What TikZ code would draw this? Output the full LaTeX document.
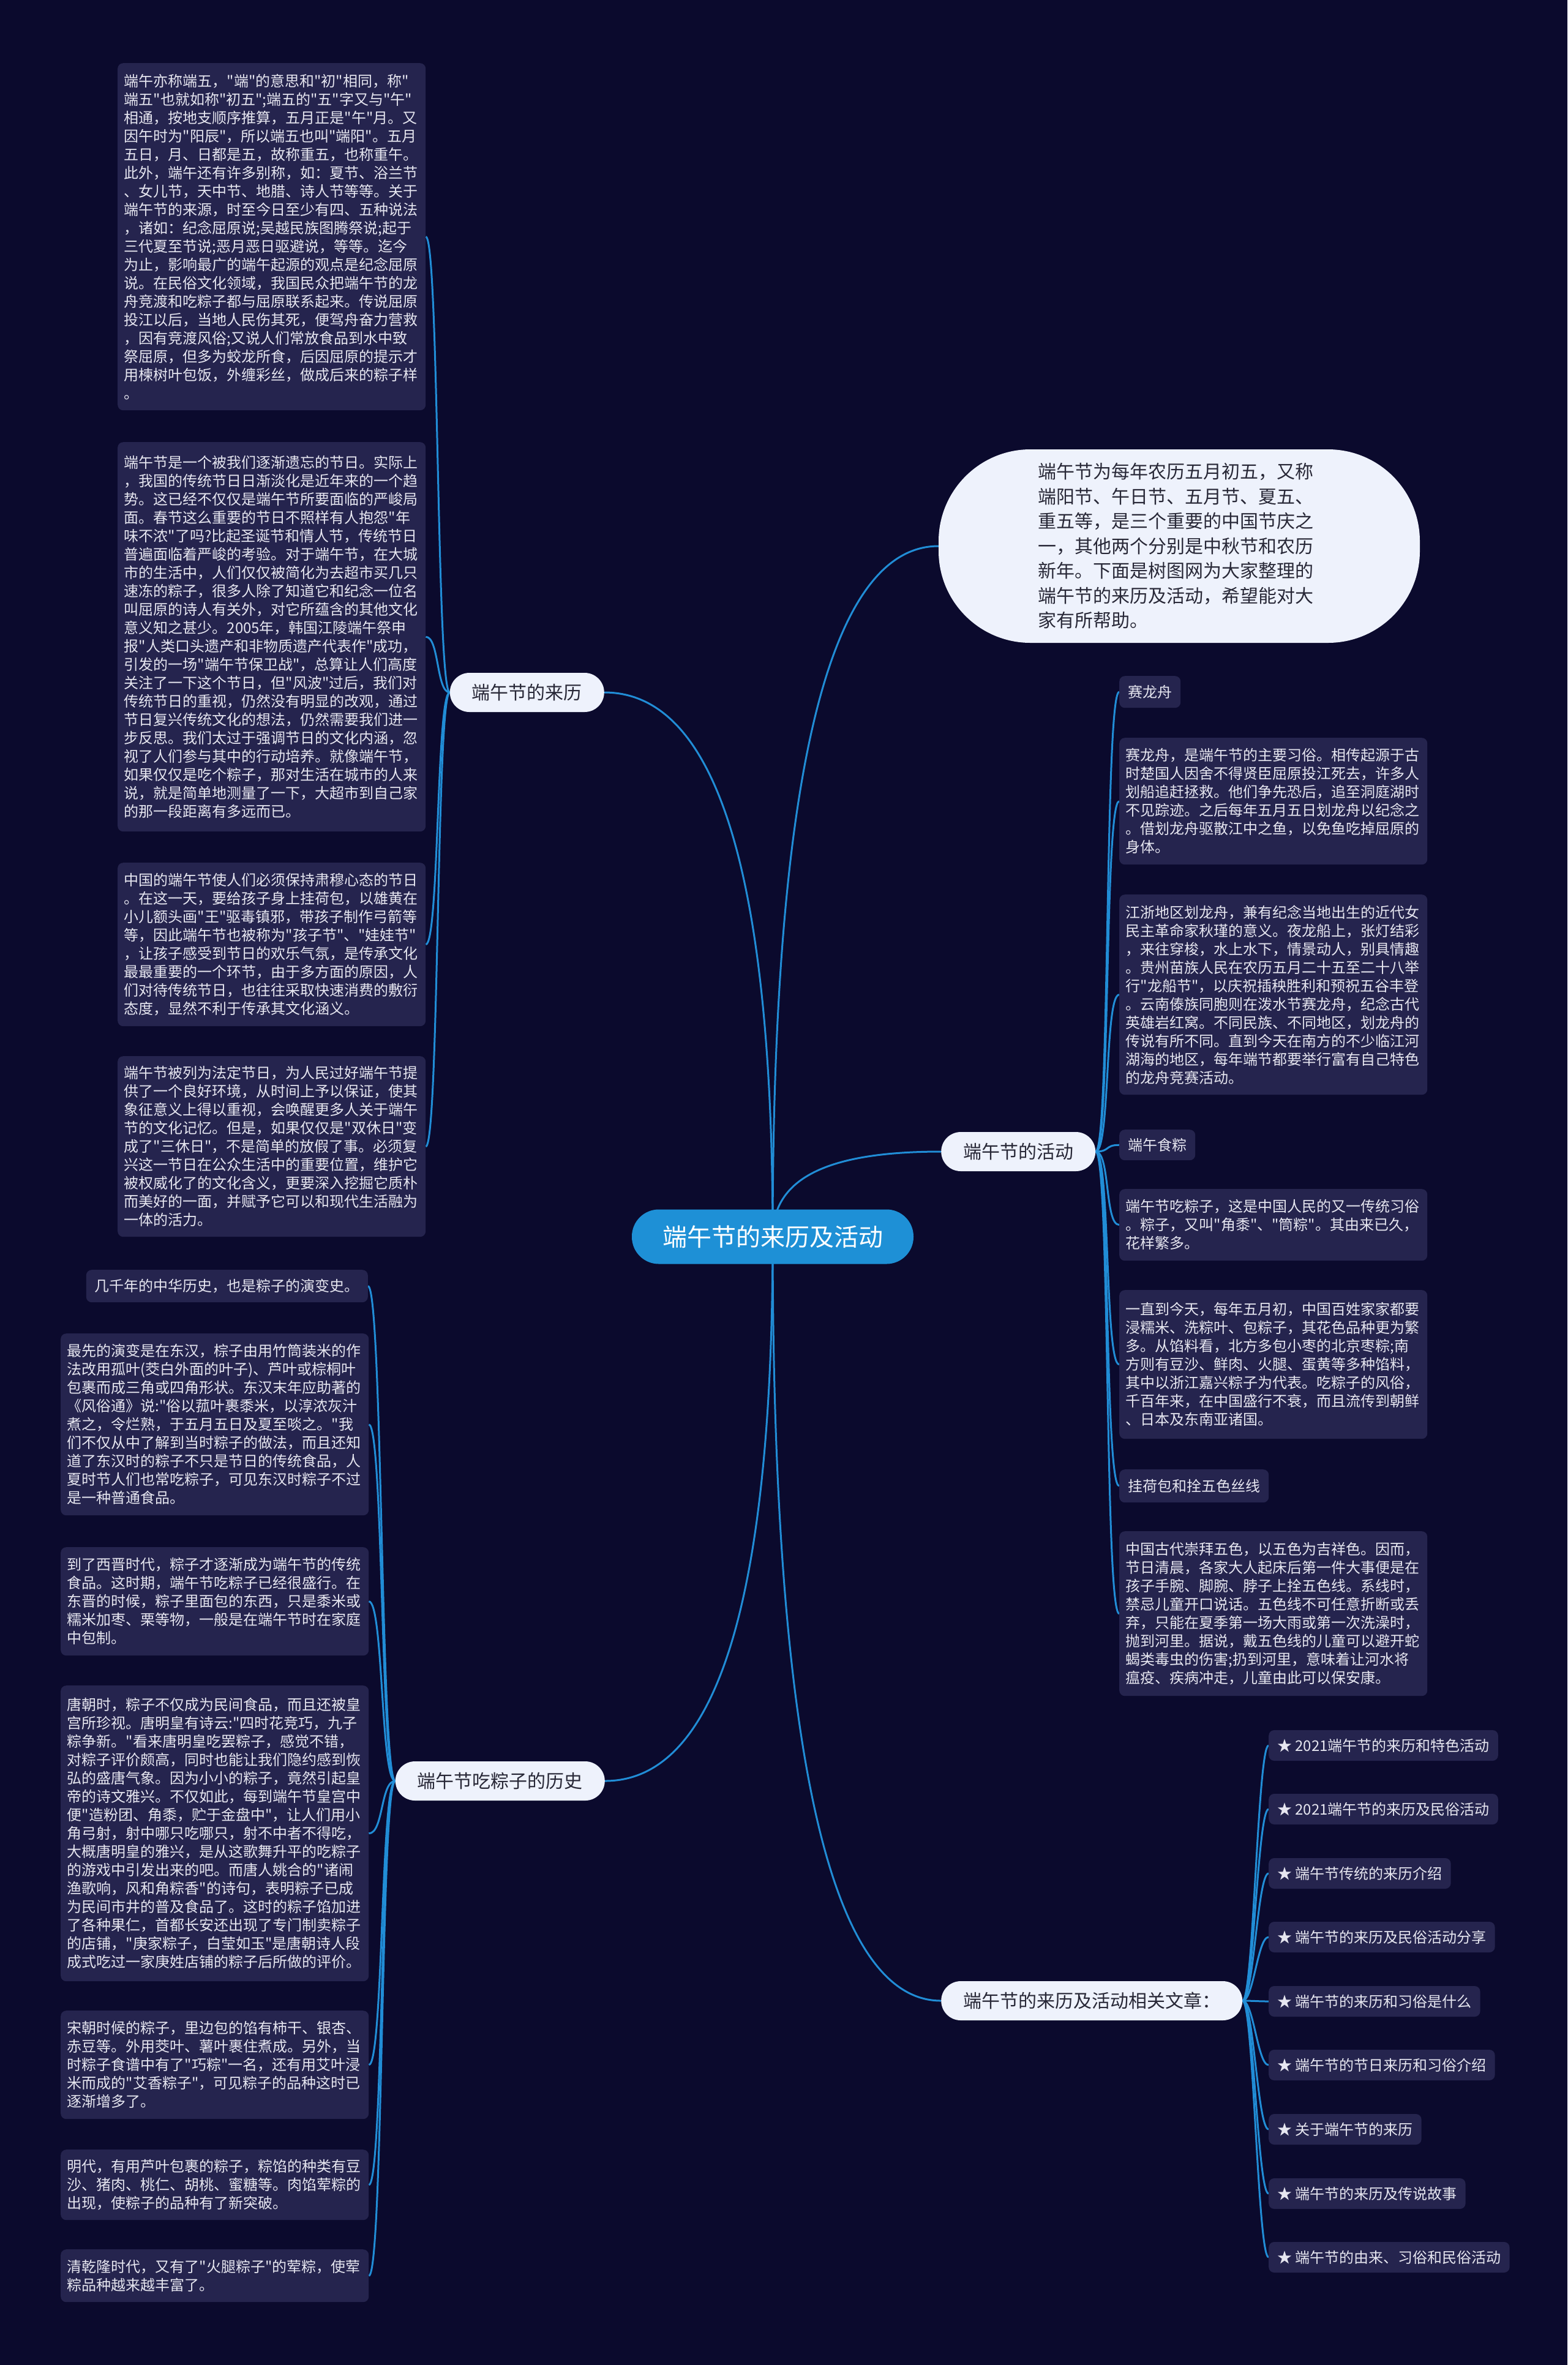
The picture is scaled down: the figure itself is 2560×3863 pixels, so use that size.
\documentclass[tikz,border=0pt]{standalone}
\usepackage{fontspec}
\setmainfont{Noto Sans CJK SC}
\newfontfamily\cjkfont{Noto Sans CJK SC}
\definecolor{bgc}{RGB}{11,10,45}
\definecolor{leaff}{RGB}{37,36,78}
\definecolor{leaft}{RGB}{230,230,240}
\definecolor{branchf}{RGB}{238,242,252}
\definecolor{brancht}{RGB}{40,40,55}
\definecolor{centerf}{RGB}{30,144,214}
\definecolor{linec}{RGB}{33,141,214}
\newcommand\leaffont{\cjkfont\fontsize{24}{30}\selectfont}
\pgfdeclarelayer{back}
\pgfdeclarelayer{bg}
\pgfsetlayers{back,bg,main}
\begin{document}
\begin{tikzpicture}[x=1pt,y=-1pt,
  leaf/.style={fill=leaff,text=leaft,rounded corners=9,inner xsep=10.5,inner ysep=0,anchor=north west,align=left,text width=482,font=\leaffont},
  tag/.style={fill=leaff,text=leaft,rounded corners=9,inner xsep=14,inner ysep=0,minimum height=52,font=\leaffont},
  branch/.style={fill=branchf,text=brancht,rounded corners=32,inner xsep=36,inner ysep=0,minimum height=64,font=\cjkfont\fontsize{30}{36}\selectfont},
  centernode/.style={fill=centerf,text=white,rounded corners=44,minimum width=459,minimum height=89,inner xsep=50,font=\cjkfont\fontsize{40}{48}\selectfont},
  intronode/.style={fill=branchf,text=brancht,rounded corners=150,minimum width=786,minimum height=316,text width=462,align=left,font=\cjkfont\fontsize{30}{40.5}\selectfont},
  conn/.style={draw=linec,line width=3}]
\useasboundingbox (0,0) rectangle (2560,3863);
\begin{pgfonlayer}{back}
\fill[bgc] (0,0) rectangle (2560,3863);
\end{pgfonlayer}

% centre and branches
\node[centernode] (c) at (1262,2020) {端午节的来历及活动};
\node[branch,anchor=east] (b1) at (987,1131) {端午节的来历};
\node[branch,anchor=east] (b2) at (988,2909) {端午节吃粽子的历史};
\node[branch,anchor=west] (b3) at (1537,1881) {端午节的活动};
\node[branch,anchor=west] (b4) at (1537,3268) {端午节的来历及活动相关文章：};
\node[intronode] (intro) at (1926,892) {端午节为每年农历五月初五，又称\\端阳节、午日节、五月节、夏五、\\重五等，是三个重要的中国节庆之\\一，其他两个分别是中秋节和农历\\新年。下面是树图网为大家整理的\\端午节的来历及活动，希望能对大\\家有所帮助。};

% left group: 端午节的来历
\node[leaf,minimum height=567] (L1) at (192,103) {端午亦称端五，"端"的意思和"初"相同，称"\\端五"也就如称"初五";端五的"五"字又与"午"\\相通，按地支顺序推算，五月正是"午"月。又\\因午时为"阳辰"，所以端五也叫"端阳"。五月\\五日，月、日都是五，故称重五，也称重午。\\此外，端午还有许多别称，如：夏节、浴兰节\\、女儿节，天中节、地腊、诗人节等等。关于\\端午节的来源，时至今日至少有四、五种说法\\，诸如：纪念屈原说;吴越民族图腾祭说;起于\\三代夏至节说;恶月恶日驱避说，等等。迄今\\为止，影响最广的端午起源的观点是纪念屈原\\说。在民俗文化领域，我国民众把端午节的龙\\舟竞渡和吃粽子都与屈原联系起来。传说屈原\\投江以后，当地人民伤其死，便驾舟奋力营救\\，因有竞渡风俗;又说人们常放食品到水中致\\祭屈原，但多为蛟龙所食，后因屈原的提示才\\用楝树叶包饭，外缠彩丝，做成后来的粽子样\\。};
\node[leaf,minimum height=636] (L2) at (192,722) {端午节是一个被我们逐渐遗忘的节日。实际上\\，我国的传统节日日渐淡化是近年来的一个趋\\势。这已经不仅仅是端午节所要面临的严峻局\\面。春节这么重要的节日不照样有人抱怨"年\\味不浓"了吗?比起圣诞节和情人节，传统节日\\普遍面临着严峻的考验。对于端午节，在大城\\市的生活中，人们仅仅被简化为去超市买几只\\速冻的粽子，很多人除了知道它和纪念一位名\\叫屈原的诗人有关外，对它所蕴含的其他文化\\意义知之甚少。2005年，韩国江陵端午祭申\\报"人类口头遗产和非物质遗产代表作"成功，\\引发的一场"端午节保卫战"，总算让人们高度\\关注了一下这个节日，但"风波"过后，我们对\\传统节日的重视，仍然没有明显的改观，通过\\节日复兴传统文化的想法，仍然需要我们进一\\步反思。我们太过于强调节日的文化内涵，忽\\视了人们参与其中的行动培养。就像端午节，\\如果仅仅是吃个粽子，那对生活在城市的人来\\说，就是简单地测量了一下，大超市到自己家\\的那一段距离有多远而已。};
\node[leaf,minimum height=267] (L3) at (192,1409) {中国的端午节使人们必须保持肃穆心态的节日\\。在这一天，要给孩子身上挂荷包，以雄黄在\\小儿额头画"王"驱毒镇邪，带孩子制作弓箭等\\等，因此端午节也被称为"孩子节"、"娃娃节"\\，让孩子感受到节日的欢乐气氛，是传承文化\\最最重要的一个环节，由于多方面的原因，人\\们对待传统节日，也往往采取快速消费的敷衍\\态度，显然不利于传承其文化涵义。};
\node[leaf,minimum height=295] (L4) at (192,1725) {端午节被列为法定节日，为人民过好端午节提\\供了一个良好环境，从时间上予以保证，使其\\象征意义上得以重视，会唤醒更多人关于端午\\节的文化记忆。但是，如果仅仅是"双休日"变\\成了"三休日"，不是简单的放假了事。必须复\\兴这一节日在公众生活中的重要位置，维护它\\被权威化了的文化含义，更要深入挖掘它质朴\\而美好的一面，并赋予它可以和现代生活融为\\一体的活力。};

% bottom-left group: 端午节吃粽子的历史
\node[tag,anchor=north east,minimum height=53] (B1) at (601,2074) {几千年的中华历史，也是粽子的演变史。};
\node[leaf,minimum height=297] (B2) at (99,2178) {最先的演变是在东汉，棕子由用竹筒装米的作\\法改用孤叶(茭白外面的叶子)、芦叶或棕桐叶\\包裹而成三角或四角形状。东汉末年应助著的\\《风俗通》说:"俗以菰叶裹黍米，以淳浓灰汁\\煮之，令烂熟，于五月五日及夏至啖之。"我\\们不仅从中了解到当时粽子的做法，而且还知\\道了东汉时的粽子不只是节日的传统食品，人\\夏时节人们也常吃粽子，可见东汉时粽子不过\\是一种普通食品。};
\node[leaf,minimum height=177] (B3) at (99,2527) {到了西晋时代，粽子才逐渐成为端午节的传统\\食品。这时期，端午节吃粽子已经很盛行。在\\东晋的时候，粽子里面包的东西，只是黍米或\\糯米加枣、栗等物，一般是在端午节时在家庭\\中包制。};
\node[leaf,minimum height=483] (B4) at (99,2753) {唐朝时，粽子不仅成为民间食品，而且还被皇\\宫所珍视。唐明皇有诗云:"四时花竞巧，九子\\粽争新。"看来唐明皇吃罢粽子，感觉不错，\\对粽子评价颇高，同时也能让我们隐约感到恢\\弘的盛唐气象。因为小小的粽子，竟然引起皇\\帝的诗文雅兴。不仅如此，每到端午节皇宫中\\便"造粉团、角黍，贮于金盘中"，让人们用小\\角弓射，射中哪只吃哪只，射不中者不得吃，\\大概唐明皇的雅兴，是从这歌舞升平的吃粽子\\的游戏中引发出来的吧。而唐人姚合的"诸闹\\渔歌响，风和角粽香"的诗句，表明粽子已成\\为民间市井的普及食品了。这时的粽子馅加进\\了各种果仁，首都长安还出现了专门制卖粽子\\的店铺，"庚家粽子，白莹如玉"是唐朝诗人段\\成式吃过一家庚姓店铺的粽子后所做的评价。};
\node[leaf,minimum height=177] (B5) at (99,3284) {宋朝时候的粽子，里边包的馅有柿干、银杏、\\赤豆等。外用茭叶、薯叶裹住煮成。另外，当\\时粽子食谱中有了"巧粽"一名，还有用艾叶浸\\米而成的"艾香粽子"，可见粽子的品种这时已\\逐渐增多了。};
\node[leaf,minimum height=115] (B6) at (99,3511) {明代，有用芦叶包裹的粽子，粽馅的种类有豆\\沙、猪肉、桃仁、胡桃、蜜糖等。肉馅荤粽的\\出现，使粽子的品种有了新突破。};
\node[leaf,minimum height=86] (B7) at (99,3674) {清乾隆时代，又有了"火腿粽子"的荤粽，使荤\\粽品种越来越丰富了。};

% right group: 端午节的活动
\node[tag,anchor=north west] (R1) at (1828,1104) {赛龙舟};
\node[leaf,minimum height=207] (R2) at (1828,1205) {赛龙舟，是端午节的主要习俗。相传起源于古\\时楚国人因舍不得贤臣屈原投江死去，许多人\\划船追赶拯救。他们争先恐后，追至洞庭湖时\\不见踪迹。之后每年五月五日划龙舟以纪念之\\。借划龙舟驱散江中之鱼，以免鱼吃掉屈原的\\身体。};
\node[leaf,minimum height=327] (R3) at (1828,1461) {江浙地区划龙舟，兼有纪念当地出生的近代女\\民主革命家秋瑾的意义。夜龙船上，张灯结彩\\，来往穿梭，水上水下，情景动人，别具情趣\\。贵州苗族人民在农历五月二十五至二十八举\\行"龙船节"，以庆祝插秧胜利和预祝五谷丰登\\。云南傣族同胞则在泼水节赛龙舟，纪念古代\\英雄岩红窝。不同民族、不同地区，划龙舟的\\传说有所不同。直到今天在南方的不少临江河\\湖海的地区，每年端节都要举行富有自己特色\\的龙舟竞赛活动。};
\node[tag,anchor=north west,minimum height=50] (R4) at (1828,1845) {端午食粽};
\node[leaf,minimum height=117] (R5) at (1828,1942) {端午节吃粽子，这是中国人民的又一传统习俗\\。粽子，又叫"角黍"、"筒粽"。其由来已久，\\花样繁多。};
\node[leaf,minimum height=243] (R6) at (1828,2107) {一直到今天，每年五月初，中国百姓家家都要\\浸糯米、洗粽叶、包粽子，其花色品种更为繁\\多。从馅料看，北方多包小枣的北京枣粽;南\\方则有豆沙、鲜肉、火腿、蛋黄等多种馅料，\\其中以浙江嘉兴粽子为代表。吃粽子的风俗，\\千百年来，在中国盛行不衰，而且流传到朝鲜\\、日本及东南亚诸国。};
\node[tag,anchor=north west,minimum height=54] (R7) at (1828,2400) {挂荷包和拴五色丝线};
\node[leaf,minimum height=269] (R8) at (1828,2501) {中国古代崇拜五色，以五色为吉祥色。因而，\\节日清晨，各家大人起床后第一件大事便是在\\孩子手腕、脚腕、脖子上拴五色线。系线时，\\禁忌儿童开口说话。五色线不可任意折断或丢\\弃，只能在夏季第一场大雨或第一次洗澡时，\\抛到河里。据说，戴五色线的儿童可以避开蛇\\蝎类毒虫的伤害;扔到河里，意味着让河水将\\瘟疫、疾病冲走，儿童由此可以保安康。};

% right list: related articles
\node[tag,anchor=west,minimum height=50] (A1) at (2072,2851) {★ 2021端午节的来历和特色活动};
\node[tag,anchor=west,minimum height=50] (A2) at (2072,2955) {★ 2021端午节的来历及民俗活动};
\node[tag,anchor=west,minimum height=50] (A3) at (2072,3060) {★ 端午节传统的来历介绍};
\node[tag,anchor=west,minimum height=50] (A4) at (2072,3164) {★ 端午节的来历及民俗活动分享};
\node[tag,anchor=west,minimum height=50] (A5) at (2072,3269) {★ 端午节的来历和习俗是什么};
\node[tag,anchor=west,minimum height=50] (A6) at (2072,3373) {★ 端午节的节日来历和习俗介绍};
\node[tag,anchor=west,minimum height=50] (A7) at (2072,3478) {★ 关于端午节的来历};
\node[tag,anchor=west,minimum height=50] (A8) at (2072,3583) {★ 端午节的来历及传说故事};
\node[tag,anchor=west,minimum height=50] (A9) at (2072,3687) {★ 端午节的由来、习俗和民俗活动};

\begin{pgfonlayer}{bg}
% from centre
\draw[conn] (c.center) .. controls (1262,1427) and (1170,1131) .. (b1.east);
\draw[conn] (c.center) .. controls (1262,1268) and (1354,892) .. (intro.west);
\draw[conn] (c.center) .. controls (1262,1930) and (1340,1881) .. (b3.west);
\draw[conn] (c.center) .. controls (1262,2613) and (1171,2909) .. (b2.east);
\draw[conn] (c.center) .. controls (1262,2852) and (1354,3268) .. (b4.west);
% second level
\foreach \n in {L1,L2,L3,L4}
  \draw[conn] (b1.west) .. controls +(-22,0) and +(22,0) .. (\n.east);
\foreach \n in {B1,B2,B3,B4,B5,B6,B7}
  \draw[conn] (b2.west) .. controls +(-24,0) and +(24,0) .. (\n.east);
\foreach \n in {R1,R2,R3,R4,R5,R6,R7,R8}
  \draw[conn] (b3.east) .. controls +(24,0) and +(-24,0) .. (\n.west);
\foreach \n in {A1,A2,A3,A4,A5,A6,A7,A8,A9}
  \draw[conn] (b4.east) .. controls +(18,0) and +(-18,0) .. (\n.west);
\end{pgfonlayer}
\end{tikzpicture}
\end{document}
